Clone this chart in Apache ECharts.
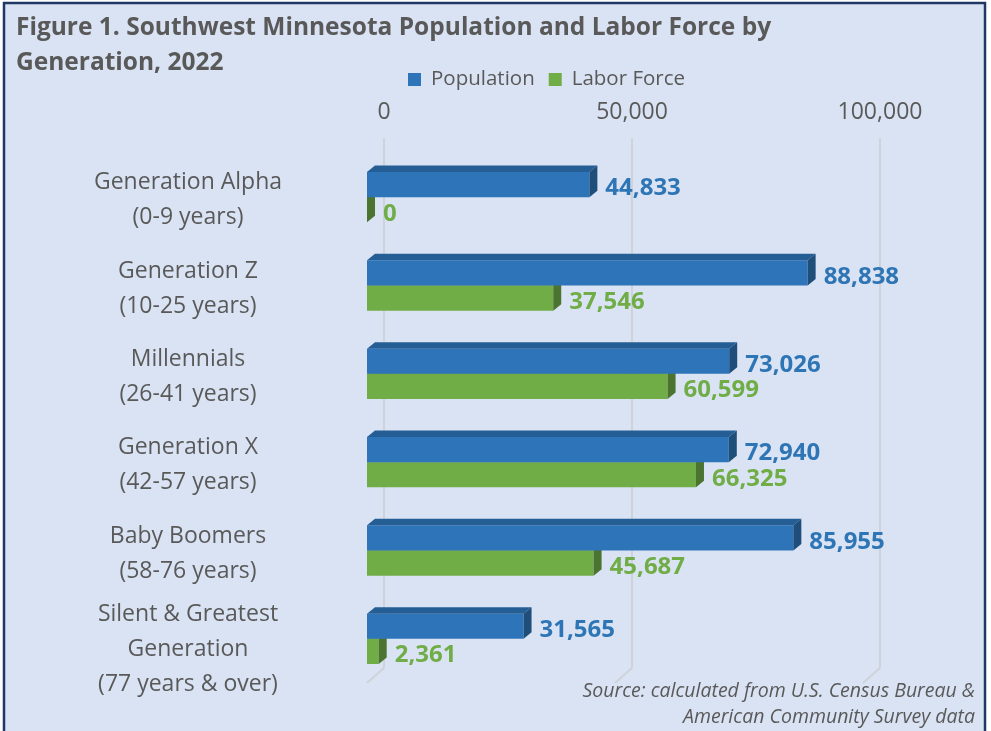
<!DOCTYPE html>
<html>
<head>
<meta charset="utf-8">
<script src="https://cdn.jsdelivr.net/npm/echarts@6/dist/echarts.min.js"></script>
<style>
  html, body { margin: 0; padding: 0; background: #fff; }
  #chart { width: 991px; height: 731px; }
</style>
</head>
<body>
<div id="chart"></div>
<script>
// data
const categories = [
  'Generation Alpha\n(0-9 years)',
  'Generation Z\n(10-25 years)',
  'Millennials\n(26-41 years)',
  'Generation X\n(42-57 years)',
  'Baby Boomers\n(58-76 years)',
  'Silent & Greatest\nGeneration\n(77 years & over)'
]
const population = [44833, 88838, 73026, 72940, 85955, 31565]
const laborForce = [0, 37546, 60599, 66325, 45687, 2361]
const tickValues = [0, 50000, 100000]

const gray = '#595959'
const gridColor = '#cfd3d9'
const font = '"Open Sans", "Noto Sans", sans-serif'

// colours for each series: front, top, side, label
const palette = [
  { front: '#2e74b8', top: '#255d95', side: '#1f4e7a', label: '#2e75b6' },
  { front: '#70ad47', top: '#5a8c39', side: '#4b7430', label: '#70ad47' }
]

// depth of the 3D bars
const DX = 8
const DY = 6.5

function fmt(v) {
  return Number(v).toLocaleString('en-US')
}

function makeBar(seriesIdx) {
  const c = palette[seriesIdx]
  return function (params, api) {
    const v = api.value(0)
    const cat = api.value(1)
    const start = api.coord([0, cat])
    const end = api.coord([v, cat])
    const band = api.size([0, 1])[1]
    const h = band * 0.285
    const yTop = seriesIdx === 0 ? start[1] - h : start[1]
    const x0 = start[0]
    const x1 = end[0]
    return {
      type: 'group',
      children: [
        {
          type: 'rect',
          shape: { x: x0, y: yTop, width: x1 - x0, height: h },
          style: { fill: c.front }
        },
        {
          type: 'polygon',
          shape: { points: [[x0, yTop], [x0 + DX, yTop - DY], [x1 + DX, yTop - DY], [x1, yTop]] },
          style: { fill: c.top }
        },
        {
          type: 'polygon',
          shape: { points: [[x1, yTop], [x1 + DX, yTop - DY], [x1 + DX, yTop + h - DY], [x1, yTop + h]] },
          style: { fill: c.side }
        },
        {
          type: 'text',
          style: {
            x: x1 + DX + 8,
            y: yTop + h / 2 + 4,
            text: fmt(v),
            fill: c.label,
            font: 'bold 24px ' + font,
            verticalAlign: 'middle'
          }
        }
      ]
    }
  }
}

const chart = echarts.init(document.getElementById('chart'))

const option = {
  backgroundColor: '#fff',
  animation: false,
  textStyle: { fontFamily: font },
  title: {
    text: 'Figure 1. Southwest Minnesota Population and Labor Force by\nGeneration, 2022',
    left: 11,
    top: 6,
    textStyle: { fontSize: 24.5, fontWeight: 'bold', color: gray, lineHeight: 35, fontFamily: font }
  },
  legend: {
    data: ['Population', 'Labor Force'],
    left: 403,
    top: 64,
    icon: 'rect',
    itemWidth: 13,
    itemHeight: 13,
    itemGap: 14,
    textStyle: { fontSize: 20.5, color: gray, fontFamily: font, padding: [0, 0, 0, 5] }
  },
  graphic: [
    {
      type: 'rect',
      z: -10,
      silent: true,
      shape: { x: 4, y: 3, width: 981, height: 760 },
      style: { fill: '#dae3f3', stroke: '#203864', lineWidth: 2.5 }
    },
    {
      type: 'text',
      right: 16,
      bottom: 1,
      style: {
        text: 'Source: calculated from U.S. Census Bureau &\nAmerican Community Survey data',
        font: 'italic 19.5px ' + font,
        fill: gray,
        textAlign: 'right',
        lineHeight: 26
      }
    }
  ],
  grid: [
    // back wall with ticks and gridlines
    { left: 384, width: 496, top: 138, height: 530 },
    // front plane where the bars sit
    { left: 367, width: 496, top: 153, height: 530 }
  ],
  xAxis: [
    {
      gridIndex: 0,
      type: 'value',
      position: 'top',
      min: 0,
      max: 100000,
      interval: 50000,
      axisLine: { show: false },
      axisTick: { show: false },
      axisLabel: { color: gray, fontSize: 23, margin: 14, formatter: fmt },
      splitLine: { lineStyle: { color: gridColor, width: 2 } }
    },
    {
      gridIndex: 1,
      type: 'value',
      min: 0,
      max: 100000,
      show: false
    }
  ],
  yAxis: [
    {
      gridIndex: 0,
      type: 'category',
      inverse: true,
      data: categories,
      show: false
    },
    {
      gridIndex: 1,
      type: 'category',
      inverse: true,
      data: categories,
      axisLine: { show: false },
      axisTick: { show: false },
      axisLabel: {
        interval: 0,
        margin: 179,
        color: gray,
        fontSize: 23,
        align: 'center',
        lineHeight: 35,
        padding: [6, 0, 0, 0],
        // the three-line label sits a little lower in the original
        formatter: (value, index) => index === categories.length - 1 ? '{sp| }\n' + value : value,
        rich: { sp: { lineHeight: 16, fontSize: 4 } }
      }
    }
  ],
  series: [
    {
      // floor edges of the gridlines
      type: 'custom',
      name: 'floor',
      xAxisIndex: 0,
      yAxisIndex: 0,
      silent: true,
      data: tickValues.map(v => [v, 0]),
      renderItem: function (params, api) {
        const p = api.coord([api.value(0), 0])
        const bottom = params.coordSys.y + params.coordSys.height
        return {
          type: 'line',
          shape: { x1: p[0], y1: bottom, x2: p[0] - 17, y2: bottom + 15 },
          style: { stroke: gridColor, lineWidth: 2 }
        }
      }
    },
    {
      type: 'custom',
      name: 'Labor Force',
      xAxisIndex: 1,
      yAxisIndex: 1,
      itemStyle: { color: palette[1].front },
      encode: { x: 0, y: 1 },
      data: laborForce.map((v, i) => [v, i]),
      renderItem: makeBar(1)
    },
    {
      type: 'custom',
      name: 'Population',
      xAxisIndex: 1,
      yAxisIndex: 1,
      itemStyle: { color: palette[0].front },
      encode: { x: 0, y: 1 },
      data: population.map((v, i) => [v, i]),
      renderItem: makeBar(0)
    }
  ]
}

chart.setOption(option)
</script>
</body>
</html>
